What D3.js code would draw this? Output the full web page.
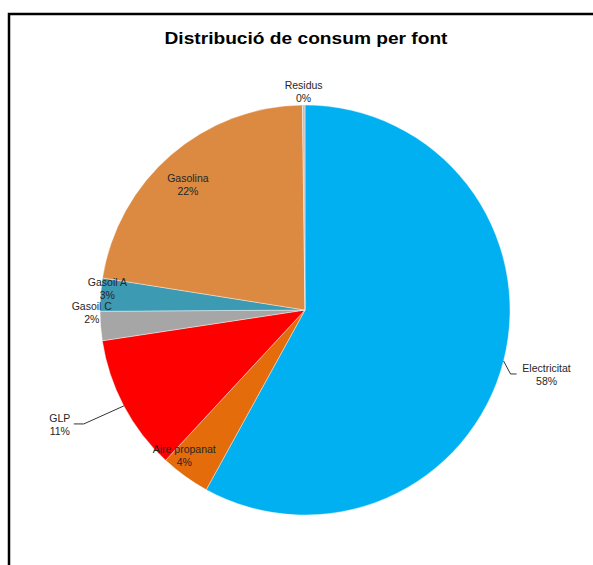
<!DOCTYPE html>
<html>
<head>
<meta charset="utf-8">
<script src="https://cdn.jsdelivr.net/npm/d3@7"></script>
<style>
  body { margin: 0; background: #fff; }
  text { font-family: "Liberation Sans", Arial, sans-serif; }
</style>
</head>
<body>
<svg id="chart" width="593" height="565"></svg>
<script>
// chart values
var categories = ["Electricitat", "Aire propanat", "GLP", "Gasoil C", "Gasoil A", "Gasolina", "Residus"];
var shares = [58.0, 3.9, 10.7, 2.3, 2.6, 22.3, 0.2];
var pctLabels = ["58%", "4%", "11%", "2%", "3%", "22%", "0%"];
var colours = ["#00B0F0", "#E46C0A", "#FF0000", "#A6A6A6", "#3C9AB2", "#DC8A42", "#C0C0C0"];

var svg = d3.select("#chart");
var W = 593, H = 565;
var cx = 305, cy = 310, R = 205;

// frame (only left and top visible in the crop)
svg.append("path")
  .attr("d", "M9," + H + " L9,14 L" + W + ",14")
  .attr("fill", "none").attr("stroke", "#000").attr("stroke-width", 2.5);

svg.append("text")
  .attr("x", 306).attr("y", 44)
  .attr("text-anchor", "middle")
  .attr("font-size", 17).attr("font-weight", "bold")
  .attr("textLength", 283).attr("lengthAdjust", "spacingAndGlyphs")
  .attr("fill", "#000")
  .text("Distribució de consum per font");

var data = categories.map(function(c, i) {
  return { name: c, value: shares[i], label: pctLabels[i], colour: colours[i] };
});

var pie = d3.pie().value(function(d) { return d.value; }).sort(null);
var arcs = pie(data);
var arc = d3.arc().innerRadius(0).outerRadius(R);

var g = svg.append("g").attr("transform", "translate(" + cx + "," + cy + ")");

g.selectAll("path.slice")
  .data(arcs)
  .enter().append("path")
  .attr("class", "slice")
  .attr("d", arc)
  .attr("fill", function(d) { return d.data.colour; })
  .attr("stroke", "#fff").attr("stroke-width", 0.4);

// label placement: radius factor + angle shift (deg), or leader line
var layout = {
  "Electricitat": { leader: true, side: 1 },
  "Aire propanat": { r: 0.92, da: 4 },
  "GLP": { leader: true, side: -1 },
  "Gasoil C": { r: 1.04, da: 4 },
  "Gasoil A": { r: 0.97, da: 2 },
  "Gasolina": { r: 0.84, da: -2 },
  "Residus": { r: 1.07, da: 0 }
};

function polar(r, a) { return [r * Math.sin(a), -r * Math.cos(a)]; }

arcs.forEach(function(d) {
  var L = layout[d.data.name];
  var mid = (d.startAngle + d.endAngle) / 2;
  var tx, ty;
  if (L.leader) {
    var p0 = polar(R, mid);
    var p1, p2;
    if (L.side > 0) {
      p1 = [p0[0] + 7, p0[1] + 13];
      p2 = [p1[0] + 6, p1[1]];
      tx = p2[0] + 30; ty = p2[1];
    } else {
      p1 = [p0[0] - 40, p0[1] + 18];
      p2 = [p1[0] - 10, p1[1]];
      tx = p2[0] - 14; ty = p2[1];
    }
    g.append("polyline")
      .attr("points", [p0, p1, p2].map(function(p) { return p.join(","); }).join(" "))
      .attr("fill", "none").attr("stroke", "#333").attr("stroke-width", 1);
  } else {
    var p = polar(R * L.r, mid + L.da * Math.PI / 180);
    tx = p[0]; ty = p[1];
  }
  var t = g.append("text")
    .attr("text-anchor", "middle")
    .attr("font-size", 10.5)
    .attr("fill", "#262626");
  t.append("tspan").attr("x", tx).attr("y", ty - 2).text(d.data.name);
  t.append("tspan").attr("x", tx).attr("y", ty + 11).text(d.data.label);
});
</script>
</body>
</html>
